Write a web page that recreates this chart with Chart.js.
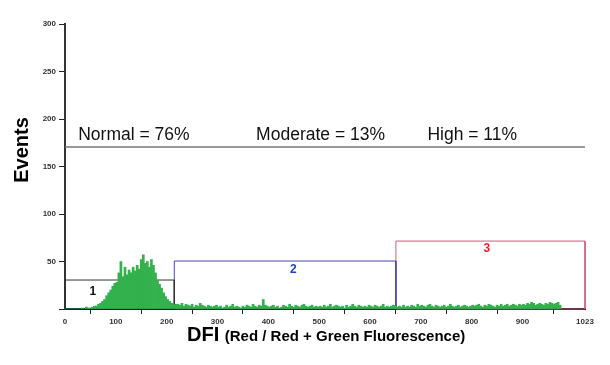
<!DOCTYPE html>
<html>
<head>
<meta charset="utf-8">
<script src="https://cdn.jsdelivr.net/npm/chart.js@4.4.1/dist/chart.umd.min.js"></script>
<style>
  html, body { margin: 0; padding: 0; background: #fff; }
  #wrap { width: 610px; height: 365px; }
</style>
</head>
<body>
<div id="wrap"><canvas id="dfiChart" width="610" height="365"></canvas></div>
<script>
// histogram: each value = events in a bin of 4 channels (channel 0 .. 975)
const binWidth = 4;
const histCounts = [
  0,0,0,0,0,0,0,0,
  1,0,2,1,1,2,3,
  3,5,6,8,10,
  14,17,20,24,27,
  28,38,50,34,44,
  36,41,38,44,40,
  46,42,52,57,48,
  50,44,52,46,38,
  30,26,22,17,13,
  10,8,6,4,5,
  5,4,6,3,5,4,3,5,2,4,3,6,4,3,2,4,3,2,3,4,
  2,3,1,2,4,2,3,5,2,3,2,1,3,2,4,3,2,5,3,2,4,3,10,4,3,
  2,3,4,2,3,1,2,4,3,2,5,3,2,4,3,2,4,5,3,2,3,4,2,3,2,
  3,2,4,2,3,5,2,3,4,3,2,3,1,4,2,3,5,3,2,4,3,2,3,2,4,
  3,2,4,3,2,3,5,2,3,2,3,4,3,
  2,3,2,4,2,3,2,4,3,2,5,3,
  4,3,2,4,5,3,2,4,3,2,3,4,2,3,5,3,2,3,4,2,3,4,3,2,3,
  4,3,4,5,3,2,4,3,5,4,3,2,4,3,5,3,4,5,3,4,5,4,3,5,4,
  5,4,6,5,7,6,4,5,6,5,4,6,5,7,6,5,6,7,4
];

// gates: [start channel, end channel, height in events]
const regionNames = ['1', '2', '3'];
const regionStart = [0, 215, 651];
const regionEnd = [215, 651, 1023];
const regionHeight = [30.5, 50.5, 71.5];
const regionColors = ['#333333', '#4646b4', '#c4607a'];
const regionLabelColors = ['#111111', '#1f3fcf', '#e0202c'];
const regionLabelPos = [[55, 15], [449, 38], [830, 60]];

// percentages line
const cutLevel = 170.5;
const percentTexts = ['Normal = 76%', 'Moderate = 13%', 'High = 11%'];
const percentPos = [26, 376, 713];
const percentY = 178;

const xTickValues = [0, 100, 200, 300, 400, 500, 600, 700, 800, 900, 1023];
const yTickValues = [0, 50, 100, 150, 200, 250, 300];

const FONT = 'Arial, "Liberation Sans", sans-serif';

const histData = histCounts.map((v, i) => ({ x: i * binWidth + binWidth / 2, y: v }));

const boxSets = regionNames.map((n, i) => ({
  type: 'line',
  label: 'gate ' + n,
  data: [
    { x: regionStart[i], y: 0 },
    { x: regionStart[i], y: regionHeight[i] },
    { x: regionEnd[i], y: regionHeight[i] },
    { x: regionEnd[i], y: 0 },
    { x: regionStart[i], y: 0 }
  ],
  borderColor: regionColors[i],
  borderWidth: 1,
  pointRadius: 0,
  fill: false,
  tension: 0,
  clip: false
}));

// textos e títulos dos eixos
const textPlugin = {
  id: 'textPlugin',
  afterDatasetsDraw(chart) {
    const ctx = chart.ctx;
    const xs = chart.scales.x, ys = chart.scales.y;
    ctx.save();
    ctx.textBaseline = 'alphabetic';

    ctx.font = 'bold 12px ' + FONT;
    ctx.textAlign = 'center';
    regionNames.forEach((n, i) => {
      ctx.fillStyle = regionLabelColors[i];
      ctx.fillText(n, xs.getPixelForValue(regionLabelPos[i][0]), ys.getPixelForValue(regionLabelPos[i][1]));
    });

    ctx.font = '17.5px ' + FONT;
    ctx.textAlign = 'left';
    ctx.fillStyle = '#111';
    percentTexts.forEach((t, i) => {
      ctx.fillText(t, xs.getPixelForValue(percentPos[i]), ys.getPixelForValue(percentY));
    });

    // y title
    ctx.save();
    ctx.translate(28, 150);
    ctx.rotate(-Math.PI / 2);
    ctx.textAlign = 'center';
    ctx.font = 'bold 20px ' + FONT;
    ctx.fillStyle = '#000';
    ctx.fillText('Events', 0, 0);
    ctx.restore();

    // x title
    ctx.textAlign = 'left';
    ctx.fillStyle = '#000';
    ctx.font = 'bold 20px ' + FONT;
    ctx.fillText('DFI', 187, 341);
    const w = ctx.measureText('DFI ').width;
    ctx.font = 'bold 15px ' + FONT;
    ctx.fillText('(Red / Red + Green Fluorescence)', 187 + w, 341);
    ctx.restore();
  }
};

new Chart(document.getElementById('dfiChart').getContext('2d'), {
  type: 'bar',
  data: {
    datasets: [
      {
        label: 'DFI',
        data: histData,
        backgroundColor: '#33b14c',
        borderWidth: 0,
        barPercentage: 1,
        categoryPercentage: 1
      },
      {
        type: 'line',
        label: 'cut',
        data: [{ x: 0, y: cutLevel }, { x: 1023, y: cutLevel }],
        borderColor: '#777',
        borderWidth: 1.5,
        pointRadius: 0,
        fill: false
      },
      ...boxSets
    ]
  },
  plugins: [textPlugin],
  options: {
    responsive: false,
    animation: false,
    layout: { padding: { left: 0, right: 25, top: 24, bottom: 0 } },
    plugins: { legend: { display: false }, tooltip: { enabled: false } },
    scales: {
      x: {
        type: 'linear',
        min: 0,
        max: 1023,
        offset: false,
        afterBuildTicks: s => { s.ticks = xTickValues.map(v => ({ value: v })); },
        afterFit: s => { s.height = 56; },
        grid: { drawOnChartArea: false, drawTicks: true, tickLength: 5, color: '#222', lineWidth: 1 },
        border: { display: true, color: '#111', width: 2 },
        ticks: {
          autoSkip: false, maxRotation: 0, padding: 3,
          color: '#333', font: { family: FONT, size: 8, weight: 'bold' },
          callback: v => String(v)
        }
      },
      y: {
        min: 0,
        max: 300,
        afterBuildTicks: s => { s.ticks = yTickValues.map(v => ({ value: v })); },
        afterFit: s => { s.width = 65; },
        grid: { drawOnChartArea: false, drawTicks: true, tickLength: 6, color: '#222', lineWidth: 1 },
        border: { display: true, color: '#333', width: 2 },
        ticks: {
          padding: 3,
          color: '#333',
          font: { family: FONT, size: 8, weight: 'bold' },
          callback: v => (v === 0 ? '' : String(v))
        }
      }
    }
  }
});
</script>
</body>
</html>
